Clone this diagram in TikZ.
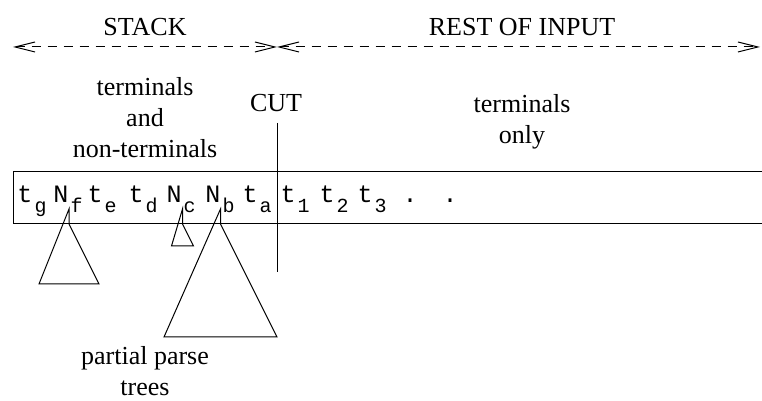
\documentclass[tikz,border=0pt]{standalone}
\usepackage{fontspec}
\setmainfont{Liberation Serif}
\setmonofont{Liberation Mono}
\usetikzlibrary{arrows.meta,positioning}

% a symbol with its index set low, as on the stack
\newcommand{\tsym}[2]{\texttt{#1}\kern1pt\lower5pt\hbox{\fontsize{10}{10}\selectfont\texttt{#2}}}

\begin{document}
\begin{tikzpicture}[x=0.5pt,y=-0.5pt,line width=0.5pt]
  \tikzstyle{lbl}=[align=center,inner sep=0pt,font=\fontsize{13}{15.5}\selectfont]
  \tikzstyle{sym}=[anchor=base west,inner sep=0pt,font=\fontsize{12.5}{12}\selectfont]
  \tikzstyle{extent}=[dash pattern=on 4.5pt off 3.5pt,
    {Straight Barb[length=10pt,width=5pt]}-{Straight Barb[length=10pt,width=5pt]}]
  \useasboundingbox (0,0) rectangle (762,401);
  % extents of stack and input
  \coordinate (stackL) at (13,47);
  \coordinate (stackR) at (277,47);
  \coordinate (inputR) at (760,47);
  \draw[extent] (stackL) -- (stackR);
  \draw[extent] (stackR) -- (inputR);
  \node[lbl,anchor=base] (stack) at (145,36) {STACK};
  \node[lbl,anchor=base] (rest) at (522,36) {REST OF INPUT};
  \node[lbl,anchor=north] (mixed) at (145,77) {terminals\\ and\\ non-terminals};
  \node[lbl,anchor=north] (only) at (522,94) {terminals\\ only};
  % the tape
  \draw (762,172) -| (13,224) -- (762,224);
  \coordinate (cutTop) at (277,123);
  \coordinate (cutBot) at (277,272);
  \draw (cutTop) -- (cutBot);
  \node[lbl,anchor=base] (cut) at (276,112) {CUT};
  \foreach \x/\m/\s/\n in {17/t/g/tg,53/N/f/Nf,87/t/e/te,128/t/d/td,166/N/c/Nc,
      205/N/b/Nb,242/t/a/ta,280/t/1/t1,319/t/2/t2,357/t/3/t3}
    \node[sym] (\n) at (\x,203) {\tsym{\m}{\s}};
  \node[sym] (dotA) at (402,203) {\texttt{.}};
  \node[sym] (dotB) at (442,203) {\texttt{.}};
  % partial parse trees
  \coordinate (fTop) at (69,209);
  \coordinate (fApex) at (69,224);
  \coordinate (cTop) at (182.5,209);
  \coordinate (cApex) at (182.5,224);
  \coordinate (bTop) at (220.5,209);
  \coordinate (bApex) at (220.5,224);
  \draw (fTop) -- (fApex) -- ++(30,60) -- ++(-60,0) -- cycle;
  \draw (cTop) -- (cApex) -- ++(11,22) -- ++(-22,0) -- cycle;
  \draw (bTop) -- (bApex) -- ++(56.5,113) -- ++(-113,0) -- cycle;
  \node[lbl,anchor=north] (parse) at (145,346) {partial parse\\ trees};
\end{tikzpicture}
\end{document}
